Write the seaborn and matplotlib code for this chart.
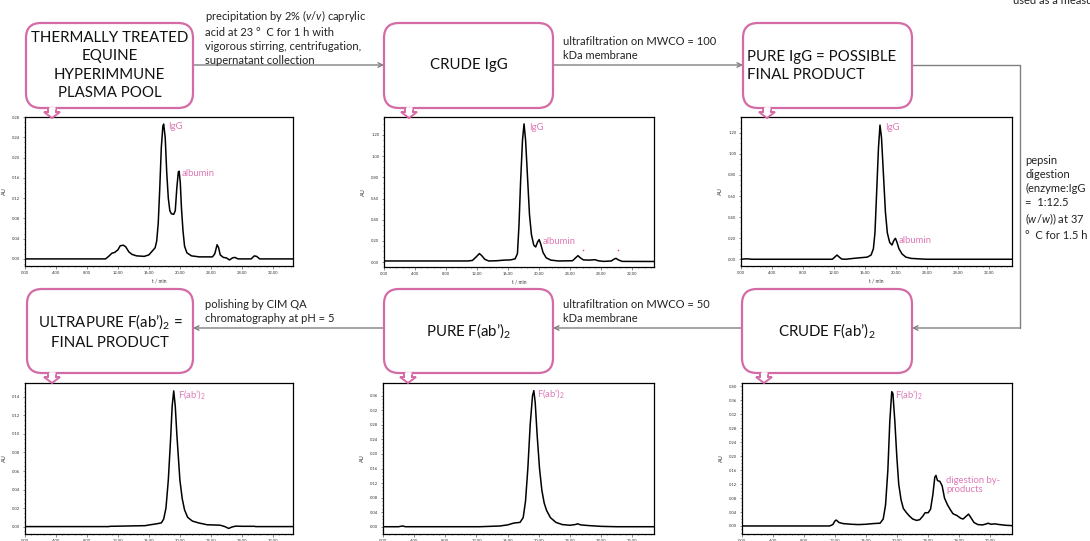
import matplotlib
matplotlib.use("Agg")
import matplotlib.pyplot as plt
import seaborn as sns
from matplotlib.patches import FancyBboxPatch, Polygon
from matplotlib.ticker import MultipleLocator, FormatStrFormatter

# ---------------- data ----------------
plasma_t = [0.0, 10.4, 10.8, 11.2, 11.6, 12.0, 12.3, 12.7, 13.0, 13.4, 13.8, 14.4, 15.4, 16.0, 16.4,
            16.8, 17.0, 17.2, 17.4, 17.6, 17.8, 17.9, 18.1, 18.3, 18.5, 18.7, 18.9, 19.2, 19.4, 19.6,
            19.8, 19.9, 20.05, 20.2, 20.4, 20.6, 20.9, 21.5, 22.5, 24.2, 24.5, 24.8, 25.0, 25.2, 25.6,
            26.0, 26.4, 26.8, 27.1, 27.5, 29.2, 29.6, 29.9, 30.3, 34.6]
plasma_au = [0.0, 0.0, 0.005, 0.011, 0.013, 0.018, 0.026, 0.027, 0.024, 0.014, 0.009, 0.006, 0.005, 0.008,
             0.015, 0.022, 0.035, 0.070, 0.140, 0.220, 0.262, 0.266, 0.240, 0.170, 0.120, 0.095, 0.089,
             0.088, 0.095, 0.140, 0.172, 0.173, 0.150, 0.100, 0.055, 0.025, 0.012, 0.006, 0.004, 0.004,
             0.010, 0.028, 0.022, 0.008, 0.003, 0.002, -0.002, 0.002, 0.003, 0.0, 0.0, 0.006, 0.005, 0.0, 0.0]

crude_igg_t = [0.0, 10.8, 11.4, 11.9, 12.3, 12.6, 13.0, 13.5, 14.5, 15.5, 16.3, 16.9, 17.2, 17.4, 17.6,
               17.85, 18.05, 18.25, 18.5, 18.75, 19.0, 19.3, 19.55, 19.8, 20.0, 20.2, 20.5, 20.9, 21.5,
               22.5, 24.3, 24.7, 25.0, 25.3, 25.7, 26.5, 27.2, 27.6, 28.3, 29.3, 29.6, 29.9, 30.2, 30.7, 34.8]
crude_igg_au = [0.010, 0.010, 0.015, 0.050, 0.080, 0.060, 0.025, 0.010, 0.012, 0.018, 0.020, 0.030, 0.080,
                0.350, 0.750, 1.150, 1.305, 1.150, 0.800, 0.450, 0.260, 0.160, 0.142, 0.190, 0.212, 0.170,
                0.090, 0.040, 0.018, 0.010, 0.012, 0.040, 0.060, 0.040, 0.020, 0.018, 0.022, 0.012, 0.006,
                0.010, 0.025, 0.035, 0.020, 0.006, 0.005]
crude_igg_dots_t = [25.7, 30.2]
crude_igg_dots_au = [0.118, 0.111]

pure_igg_t = [0.0, 0.6, 1.0, 1.4, 11.8, 12.1, 12.4, 12.7, 13.0, 13.5, 14.5, 15.5, 16.3, 16.8, 17.1, 17.3,
              17.5, 17.75, 17.95, 18.15, 18.4, 18.65, 18.9, 19.2, 19.5, 19.75, 19.95, 20.15, 20.4, 20.8,
              21.3, 22.0, 22.9, 24.0, 35.0]
pure_igg_au = [0.0, 0.004, 0.003, 0.0, 0.0, 0.020, 0.040, 0.020, 0.002, 0.0, 0.008, 0.015, 0.020, 0.040,
               0.100, 0.250, 0.600, 1.050, 1.273, 1.150, 0.800, 0.450, 0.250, 0.160, 0.135, 0.180, 0.199,
               0.160, 0.100, 0.050, 0.020, 0.008, 0.004, 0.0, 0.0]

crude_fab_t = [0.0, 11.3, 11.7, 12.0, 12.15, 12.5, 13.0, 14.0, 15.0, 16.0, 17.0, 17.8, 18.2, 18.5, 18.8,
               19.05, 19.3, 19.45, 19.7, 19.95, 20.2, 20.5, 20.8, 21.2, 21.6, 22.0, 22.5, 22.9, 23.3, 23.6,
               24.0, 24.3, 24.6, 24.85, 25.0, 25.2, 25.5, 25.8, 26.1, 26.5, 26.9, 27.2, 27.7, 28.2, 28.5,
               28.9, 29.2, 29.5, 29.9, 30.4, 31.0, 31.5, 31.7, 32.1, 32.6, 33.2, 34.0, 34.8]
crude_fab_au = [0.0, 0.0, 0.004, 0.015, 0.017, 0.010, 0.007, 0.005, 0.004, 0.005, 0.007, 0.008, 0.020,
                0.060, 0.160, 0.300, 0.385, 0.380, 0.300, 0.200, 0.120, 0.075, 0.050, 0.038, 0.028, 0.020,
                0.016, 0.018, 0.028, 0.038, 0.038, 0.048, 0.090, 0.140, 0.145, 0.130, 0.128, 0.115, 0.080,
                0.060, 0.045, 0.035, 0.030, 0.022, 0.020, 0.028, 0.034, 0.024, 0.010, 0.004, 0.003, 0.006,
                0.008, 0.005, 0.006, 0.004, 0.002, 0.001]

pure_fab_t = [0.0, 2.0, 2.5, 2.9, 12.4, 15.0, 16.0, 16.8, 17.6, 18.0, 18.3, 18.6, 18.9, 19.2, 19.37, 19.55,
              19.8, 20.1, 20.4, 20.7, 21.0, 21.5, 22.2, 23.0, 24.0, 24.7, 25.0, 25.4, 26.5, 28.0, 30.0, 34.8]
pure_fab_au = [0.0, 0.0, 0.002, 0.0, 0.0, 0.002, 0.005, 0.010, 0.012, 0.025, 0.070, 0.160, 0.280, 0.360,
               0.374, 0.340, 0.250, 0.160, 0.100, 0.065, 0.045, 0.025, 0.012, 0.006, 0.004, 0.006, 0.008,
               0.005, 0.003, 0.001, 0.0, 0.0]

ultra_fab_t = [0.0, 10.8, 11.0, 12.4, 15.5, 16.2, 17.0, 17.6, 17.9, 18.2, 18.5, 18.8, 19.0, 19.2, 19.4,
               19.6, 19.8, 20.0, 20.3, 20.6, 21.0, 21.6, 22.4, 23.5, 25.2, 25.8, 26.3, 26.7, 27.2, 28.0,
               29.6, 29.8, 34.6]
ultra_fab_au = [0.0, 0.0, 0.0003, 0.0005, 0.001, 0.002, 0.003, 0.004, 0.008, 0.020, 0.050, 0.095, 0.130,
                0.1465, 0.130, 0.100, 0.075, 0.050, 0.030, 0.018, 0.010, 0.006, 0.004, 0.002, 0.0015, 0.0,
                -0.002, -0.0005, 0.0005, 0.0003, 0.0003, 0.0, 0.0]

x_tick_labels = ["0.00", "4.00", "8.00", "12.00", "16.00", "20.00", "24.00", "28.00", "32.00"]

box_labels = ["THERMALLY TREATED\nEQUINE\nHYPERIMMUNE\nPLASMA POOL",
              "CRUDE IgG",
              "PURE IgG = POSSIBLE\nFINAL PRODUCT",
              "ULTRAPURE F(ab’)$_2$ =\nFINAL PRODUCT",
              "PURE F(ab’)$_2$",
              "CRUDE F(ab’)$_2$"]

step_labels = ["precipitation by 2% ($\\mathit{v}$/$\\mathit{v}$) caprylic\nacid at 23 °  C for 1 h with\n"
               "vigorous stirring, centrifugation,\nsupernatant collection",
               "ultrafiltration on MWCO = 100\nkDa membrane",
               "pepsin\ndigestion\n(enzyme:IgG\n=  1:12.5\n($\\mathit{w}$/$\\mathit{w}$)) at 37\n°  C for 1.5 h",
               "ultrafiltration on MWCO = 50\nkDa membrane",
               "polishing by CIM QA\nchromatography at pH = 5"]

# ---------------- style ----------------
sns.set_theme(style="ticks")
plt.rcParams['font.family'] = ['Lato', 'DejaVu Sans']
plt.rcParams['mathtext.fontset'] = 'custom'
plt.rcParams['mathtext.rm'] = 'Lato'
plt.rcParams['mathtext.it'] = 'Lato:italic'
plt.rcParams['mathtext.bf'] = 'Lato:bold'

PINK = '#d46aa6'
PINK_TXT = '#df7ab6'
GREY = '#808080'

W, H = 1090, 541
fig = plt.figure(figsize=(W / 100, H / 100), dpi=100)
fig.patch.set_facecolor('white')


def px_axes(l, t, r, b, z=1):
    return fig.add_axes([l / W, 1 - b / H, (r - l) / W, (b - t) / H], zorder=z)


panels = [
    dict(rect=(25, 117, 293, 266), t=plasma_t, au=plasma_au, xlim=(0, 34.6), ylim=(-0.014, 0.28),
         ystep=0.04, yminor=0.01, xlabel=True,
         ann=[("IgG", 18.5, 0.262), ("albumin", 20.2, 0.168)]),
    dict(rect=(384, 117, 654, 267), t=crude_igg_t, au=crude_igg_au, xlim=(0, 34.8), ylim=(-0.047, 1.37),
         ystep=0.2, yminor=0.05, xlabel=True,
         ann=[("IgG", 18.7, 1.27), ("albumin", 20.4, 0.196)]),
    dict(rect=(741, 117, 1012, 266), t=pure_igg_t, au=pure_igg_au, xlim=(0, 35.0), ylim=(-0.064, 1.35),
         ystep=0.2, yminor=0.05, xlabel=True,
         ann=[("IgG", 18.6, 1.255), ("albumin", 20.4, 0.176)]),
    dict(rect=(25, 383, 293, 534), t=ultra_fab_t, au=ultra_fab_au, xlim=(0, 34.6), ylim=(-0.008, 0.155),
         ystep=0.02, yminor=0.005, xlabel=False,
         ann=[("F(ab’)$_2$", 19.7, 0.143)]),
    dict(rect=(383, 383, 654, 534), t=pure_fab_t, au=pure_fab_au, xlim=(0, 34.8), ylim=(-0.02, 0.395),
         ystep=0.04, yminor=0.01, xlabel=False,
         ann=[("F(ab’)$_2$", 19.8, 0.366)]),
    dict(rect=(742, 383, 1012, 534), t=crude_fab_t, au=crude_fab_au, xlim=(0, 34.8), ylim=(-0.023, 0.41),
         ystep=0.04, yminor=0.01, xlabel=False,
         ann=[("F(ab’)$_2$", 19.75, 0.378), ("digestion by-\nproducts", 26.3, 0.118)]),
]

for i, p in enumerate(panels):
    ax = px_axes(*p['rect'])
    sns.lineplot(x=p['t'], y=p['au'], ax=ax, color='black', lw=1.1, estimator=None, sort=False)
    if i == 1:
        sns.scatterplot(x=crude_igg_dots_t, y=crude_igg_dots_au, ax=ax, color='#e0607a', s=1.5,
                        linewidth=0)
    ax.set_xlim(*p['xlim'])
    ax.set_ylim(*p['ylim'])
    ax.set_xticks([4 * k for k in range(len(x_tick_labels))])
    ax.set_xticklabels(x_tick_labels)
    ax.xaxis.set_minor_locator(MultipleLocator(0.8))
    ax.yaxis.set_major_locator(MultipleLocator(p['ystep']))
    ax.yaxis.set_minor_locator(MultipleLocator(p['yminor']))
    ax.yaxis.set_major_formatter(FormatStrFormatter('%.2f'))
    ax.tick_params(which='both', direction='out', labelsize=3, width=0.4, pad=1.5, color='#333333',
                   labelcolor='#333333')
    ax.tick_params(which='major', length=1.8)
    ax.tick_params(which='minor', length=1.0)
    for s in ax.spines.values():
        s.set_visible(True)
        s.set_color('black')
        s.set_linewidth(0.9)
    ax.set_ylabel("AU", fontsize=4, labelpad=4, color='#333333')
    if p['xlabel']:
        ax.set_xlabel("t / min", fontsize=3.5, labelpad=3, color='#333333')
    else:
        ax.set_xlabel("")
    ax.grid(False)
    for txt, tx, ty in p['ann']:
        ax.text(tx, ty, txt, color=PINK_TXT, fontsize=6.8, ha='left', va='center', linespacing=1.0)

# ---------------- overlay: boxes, arrows, step texts ----------------
ov = fig.add_axes([0, 0, 1, 1], zorder=10)
ov.set_xlim(0, W)
ov.set_ylim(H, 0)
ov.axis('off')
ov.patch.set_alpha(0)

boxes = [(26, 23, 193, 108, 52), (384, 23, 553, 108, 409), (743, 23, 912, 108, 767),
         (27, 289, 193, 373, 52), (384, 289, 553, 373, 408), (742, 289, 912, 373, 764)]

for k, (x0, y0, x1, y1, cx) in enumerate(boxes):
    ov.add_patch(FancyBboxPatch((x0, y0), x1 - x0, y1 - y0, boxstyle="round,pad=0,rounding_size=15",
                                fc='white', ec=PINK, lw=1.6, zorder=3))
    tail = [(cx - 4, y1), (cx - 4, y1 + 4), (cx - 8, y1 + 4), (cx, y1 + 10), (cx + 8, y1 + 4),
            (cx + 4, y1 + 4), (cx + 4, y1)]
    ov.add_patch(Polygon(tail, closed=False, fc='white', ec=PINK, lw=1.4, zorder=4))
    ov.plot([cx - 3, cx + 3], [y1, y1], color='white', lw=2.0, zorder=5, solid_capstyle='butt')

box_text_pos = [((x0 + x1) / 2, (y0 + y1) / 2, 'center') for (x0, y0, x1, y1, _) in boxes]
box_text_pos[2] = (747, 66, 'left')
for lab, (tx, ty, ha) in zip(box_labels, box_text_pos):
    ov.text(tx, ty, lab, fontsize=10.8, ha=ha, va='center', ma=ha, linespacing=1.42, color='#111111',
            zorder=6)

arrow_kw = dict(arrowstyle='->', color=GREY, lw=1.0, shrinkA=0, shrinkB=0, mutation_scale=8)
ov.annotate('', xy=(384, 65), xytext=(193, 65), arrowprops=arrow_kw, zorder=2)
ov.annotate('', xy=(743, 65), xytext=(553, 65), arrowprops=arrow_kw, zorder=2)
ov.plot([912, 1020, 1020], [65, 65, 328], color=GREY, lw=1.0, zorder=2)
ov.annotate('', xy=(912, 328), xytext=(1020, 328), arrowprops=arrow_kw, zorder=2)
ov.annotate('', xy=(553, 328), xytext=(742, 328), arrowprops=arrow_kw, zorder=2)
ov.annotate('', xy=(193, 328), xytext=(384, 328), arrowprops=arrow_kw, zorder=2)

step_pos = [(205, 8), (563, 36), (1025, 155), (563, 299), (205, 299)]
for lab, (tx, ty) in zip(step_labels, step_pos):
    ov.text(tx, ty, lab, fontsize=8, ha='left', va='top', linespacing=1.32, color='#222222')

ov.text(1013, 0, "used as a measure of protein", fontsize=8, ha='left', va='center', color='#222222')

fig.savefig("out.png", dpi=100, facecolor='white')
